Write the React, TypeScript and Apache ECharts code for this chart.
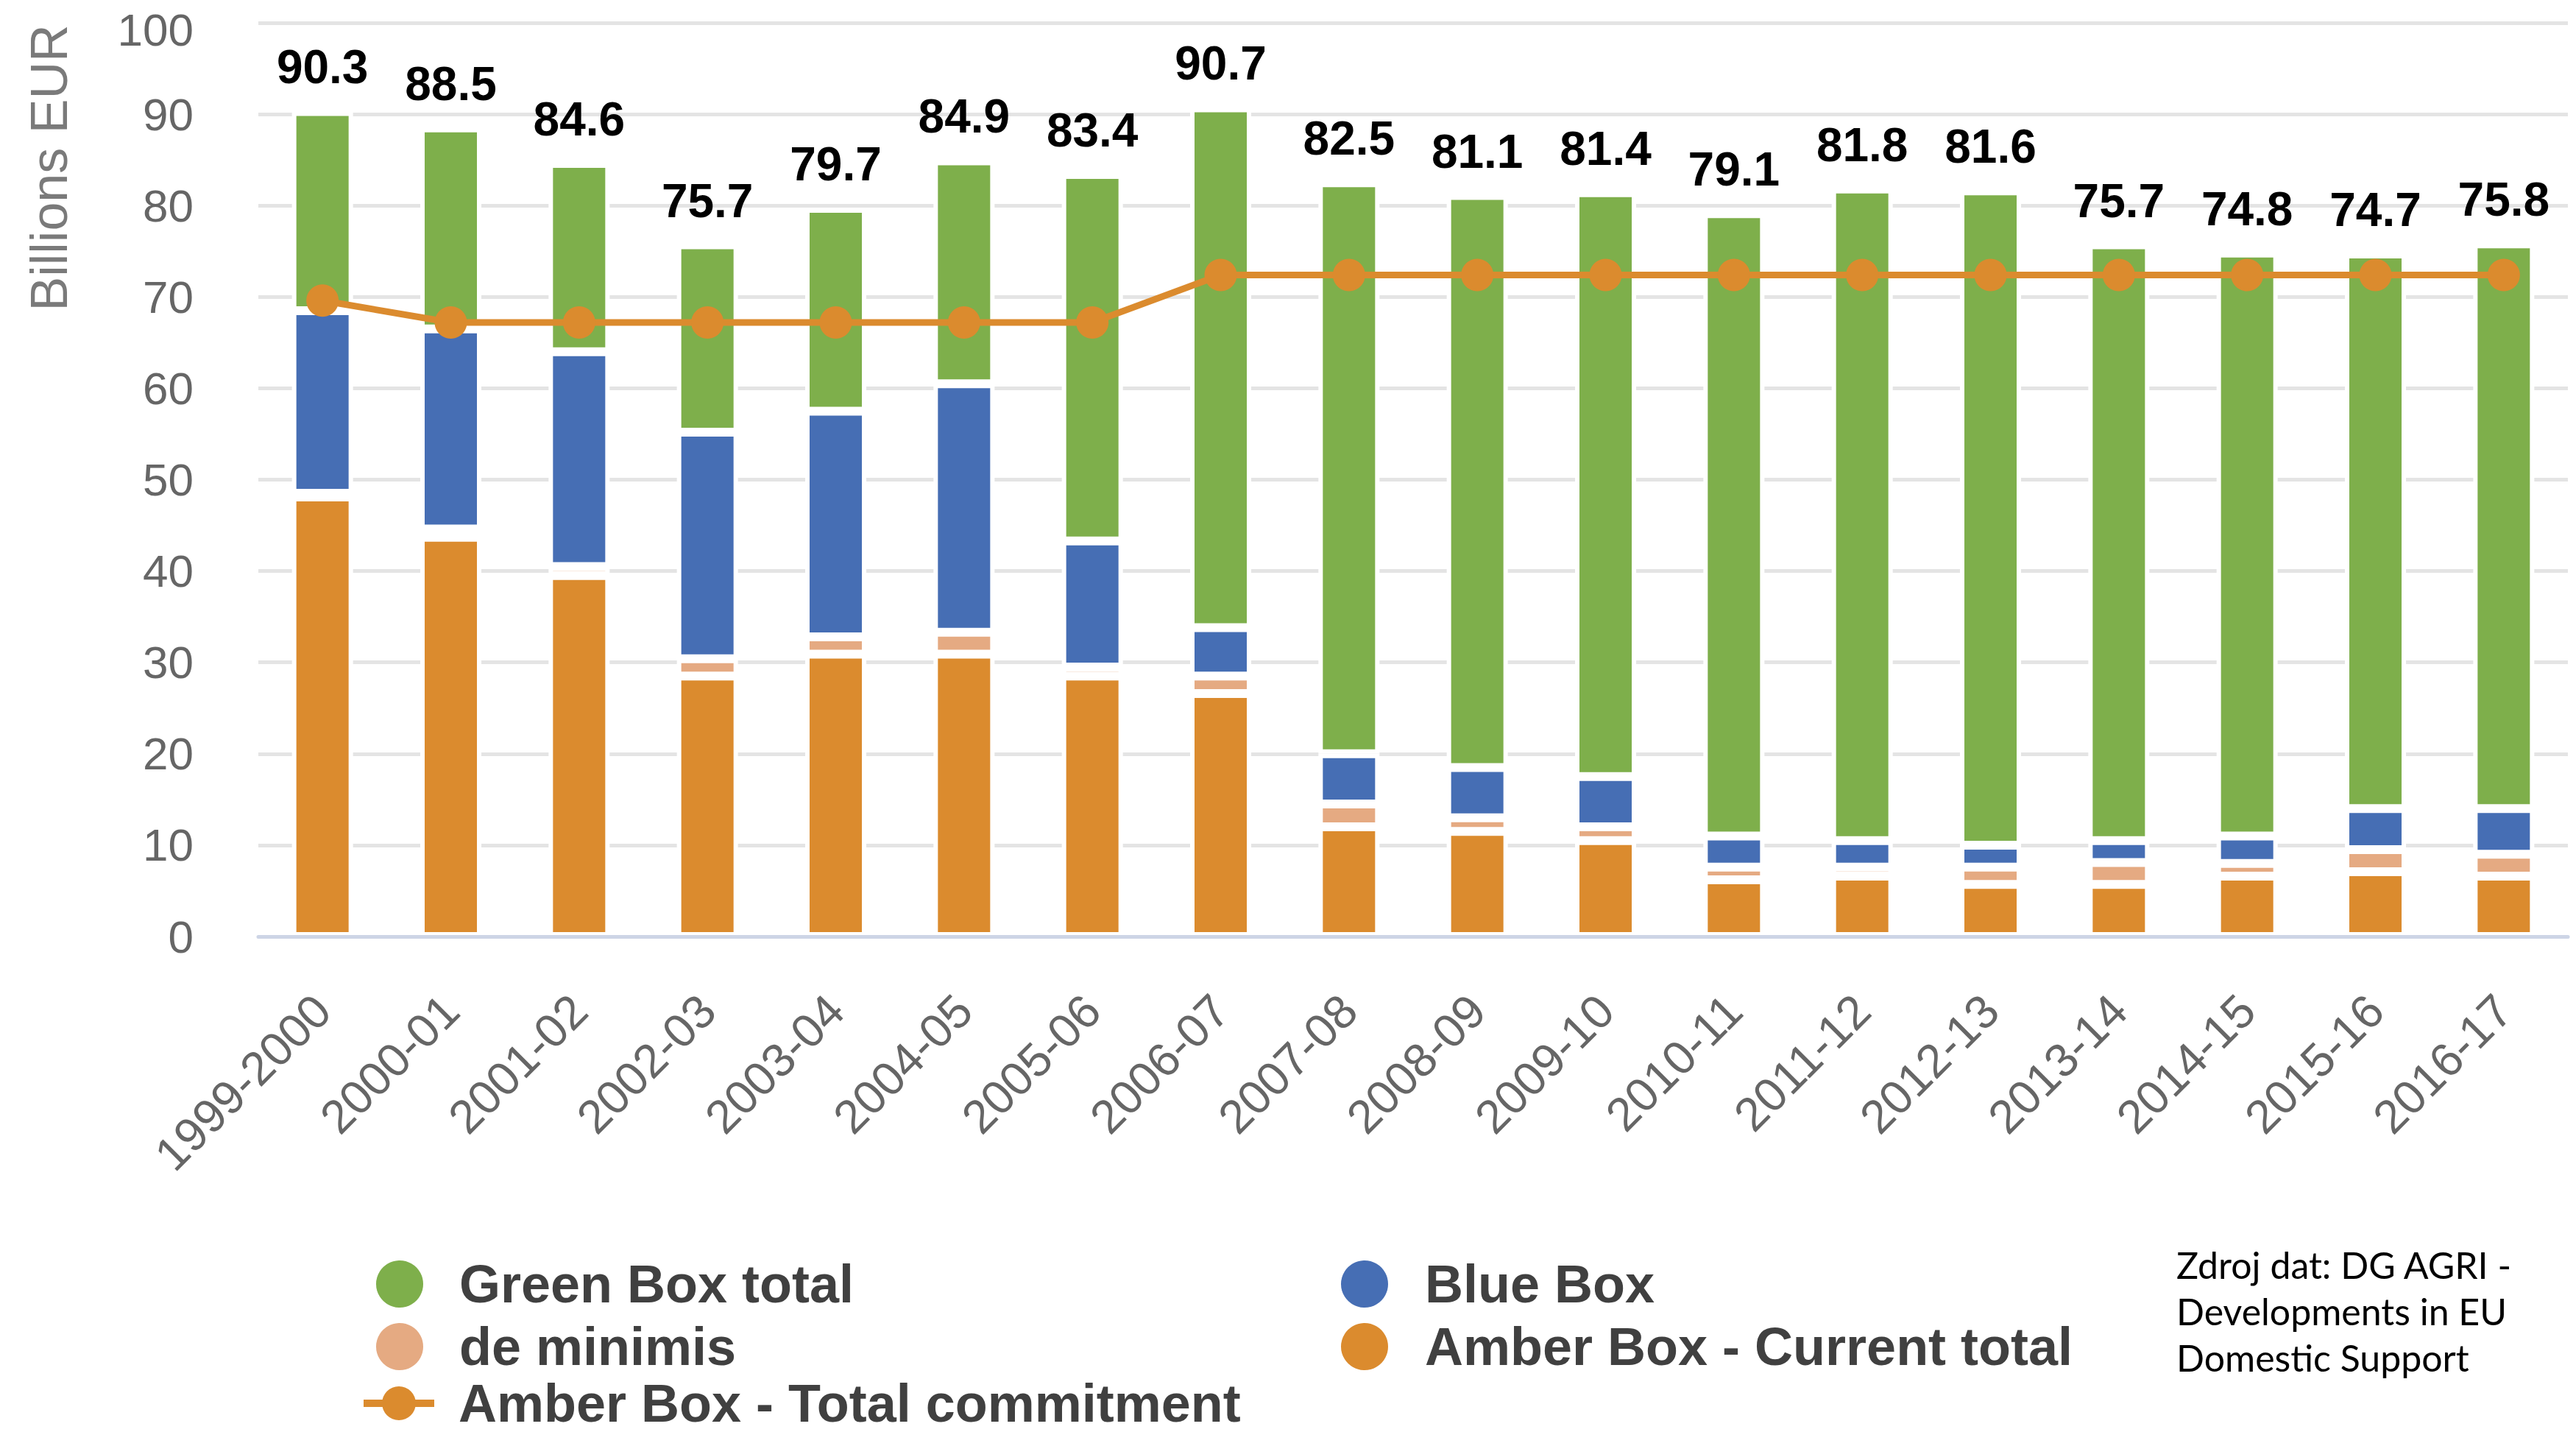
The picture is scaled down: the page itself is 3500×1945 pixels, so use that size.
import React, { useEffect, useRef } from "react";
import * as echarts from "echarts";

const categories = [
  "1999-2000", "2000-01", "2001-02", "2002-03", "2003-04", "2004-05",
  "2005-06", "2006-07", "2007-08", "2008-09", "2009-10", "2010-11",
  "2011-12", "2012-13", "2013-14", "2014-15", "2015-16", "2016-17",
];

const amberCurrent = [48.1, 43.7, 39.5, 28.5, 30.9, 30.9, 28.5, 26.6, 12.0, 11.5, 10.5, 6.2, 6.6, 5.7, 5.7, 6.6, 7.1, 6.6];
const deMinimis = [0.4, 0.9, 1.0, 1.9, 1.9, 2.4, 1.0, 1.9, 2.5, 1.5, 1.5, 1.4, 1.0, 1.9, 2.4, 1.4, 2.4, 2.4];
const blueBox = [20.0, 21.9, 23.5, 24.8, 24.7, 27.2, 13.8, 5.3, 5.5, 5.5, 5.5, 3.4, 2.9, 2.4, 2.4, 3.0, 4.5, 5.0];
const greenBox = [21.8, 22.0, 20.6, 20.5, 22.2, 24.4, 40.1, 56.9, 62.5, 62.6, 63.9, 68.1, 71.3, 71.6, 65.2, 63.8, 60.7, 61.8];
const totals = [90.3, 88.5, 84.6, 75.7, 79.7, 84.9, 83.4, 90.7, 82.5, 81.1, 81.4, 79.1, 81.8, 81.6, 75.7, 74.8, 74.7, 75.8];
const amberCommitment = [69.6, 67.2, 67.2, 67.2, 67.2, 67.2, 67.2, 72.4, 72.4, 72.4, 72.4, 72.4, 72.4, 72.4, 72.4, 72.4, 72.4, 72.4];

const yTicks = { min: 0, max: 100, interval: 10 };

const C_GREEN = "#7EAF4B";
const C_BLUE = "#466EB4";
const C_ORANGE = "#DB8B2E";
const C_DM = "#E5AA82";
const FONT = "'Liberation Sans', Arial, sans-serif";

const LINE_ICON = "path://M0,20H96V30H0Z M25,25A23,23,0,1,1,71,25A23,23,0,1,1,25,25Z";

export default function App() {
  const ref = useRef<HTMLDivElement | null>(null);

  useEffect(() => {
    if (!ref.current) return;
    const chart = echarts.init(ref.current, null, { renderer: "svg" });

    const barCommon = {
      type: "bar",
      stack: "total",
      barWidth: 83,
      itemStyle: { borderColor: "#ffffff", borderWidth: 6 },
    };

    const legendText = {
      fontSize: 72,
      fontWeight: "bold",
      color: "#404040",
      fontFamily: FONT,
    };

    const option: any = {
      animation: false,
      grid: { left: 351, right: 11, top: 31, bottom: 673, containLabel: false },
      xAxis: {
        type: "category",
        data: categories,
        z: 5,
        axisLine: { show: true, lineStyle: { color: "#CDD5E6", width: 5 } },
        axisTick: { show: false },
        axisLabel: {
          rotate: 45,
          margin: 90,
          fontSize: 64,
          color: "#666666",
          fontFamily: FONT,
          interval: 0,
        },
      },
      yAxis: {
        type: "value",
        min: yTicks.min,
        max: yTicks.max,
        interval: yTicks.interval,
        axisLine: { show: false },
        axisTick: { show: false },
        axisLabel: {
          margin: 88,
          fontSize: 62,
          color: "#666666",
          fontFamily: FONT,
          formatter: (v: number) => (v === yTicks.max ? "{t|" + v + "}" : String(v)),
          rich: {
            t: { fontSize: 62, color: "#666666", fontFamily: FONT, padding: [18, 0, 0, 0] },
          },
        },
        splitLine: { lineStyle: { color: "#E4E4E4", width: 5 } },
      },
      legend: [
        {
          data: ["Green Box total"], left: 509, top: 1708, padding: 0,
          icon: "circle", itemWidth: 66, itemHeight: 66,
          textStyle: { ...legendText, padding: [0, 0, 0, 43] },
        },
        {
          data: ["de minimis"], left: 509, top: 1793, padding: 0,
          icon: "circle", itemWidth: 66, itemHeight: 66,
          textStyle: { ...legendText, padding: [0, 0, 0, 43] },
        },
        {
          data: ["Amber Box - Total commitment"], left: 494, top: 1870, padding: 0,
          icon: LINE_ICON, itemWidth: 96, itemHeight: 50,
          textStyle: { ...legendText, padding: [0, 0, 0, 28] },
        },
        {
          data: ["Blue Box"], left: 1820, top: 1708, padding: 0,
          icon: "circle", itemWidth: 66, itemHeight: 66,
          textStyle: { ...legendText, padding: [0, 0, 0, 44] },
        },
        {
          data: ["Amber Box - Current total"], left: 1820, top: 1793, padding: 0,
          icon: "circle", itemWidth: 66, itemHeight: 66,
          textStyle: { ...legendText, padding: [0, 0, 0, 44] },
        },
      ],
      graphic: [
        {
          type: "text",
          x: 67,
          y: 228,
          rotation: Math.PI / 2,
          style: {
            text: "Billions EUR",
            fontSize: 70,
            fontFamily: FONT,
            fill: "#7a7a7a",
            align: "center",
            verticalAlign: "middle",
            textAlign: "center",
            textVerticalAlign: "middle",
          },
        },
        {
          type: "text",
          left: 2957,
          top: 1686,
          style: {
            text: "Zdroj dat: DG AGRI -\nDevelopments in EU\nDomestic Support",
            fontSize: 50,
            lineHeight: 63,
            fontFamily: "Lato, 'Open Sans', sans-serif",
            fill: "#000000",
          },
        },
      ],
      series: [
        {
          ...barCommon,
          name: "Amber Box - Current total",
          data: amberCurrent,
          itemStyle: { ...barCommon.itemStyle, color: C_ORANGE },
        },
        {
          ...barCommon,
          name: "de minimis",
          data: deMinimis,
          itemStyle: { ...barCommon.itemStyle, color: C_DM },
        },
        {
          ...barCommon,
          name: "Blue Box",
          data: blueBox,
          itemStyle: { ...barCommon.itemStyle, color: C_BLUE },
        },
        {
          ...barCommon,
          name: "Green Box total",
          data: greenBox,
          itemStyle: { ...barCommon.itemStyle, color: C_GREEN },
          label: {
            show: true,
            position: "top",
            distance: 28,
            fontSize: 64,
            fontWeight: "bold",
            color: "#000000",
            fontFamily: FONT,
            formatter: (p: any) => totals[p.dataIndex].toFixed(1),
          },
        },
        {
          type: "line",
          name: "Amber Box - Total commitment",
          data: amberCommitment,
          symbol: "circle",
          symbolSize: 44,
          z: 4,
          lineStyle: { color: C_ORANGE, width: 9 },
          itemStyle: { color: C_ORANGE },
        },
      ],
    };

    chart.setOption(option);
    return () => chart.dispose();
  }, []);

  return (
    <div
      ref={ref}
      style={{ position: "fixed", left: 0, top: 0, width: 3500, height: 1945, background: "#ffffff" }}
    />
  );
}
